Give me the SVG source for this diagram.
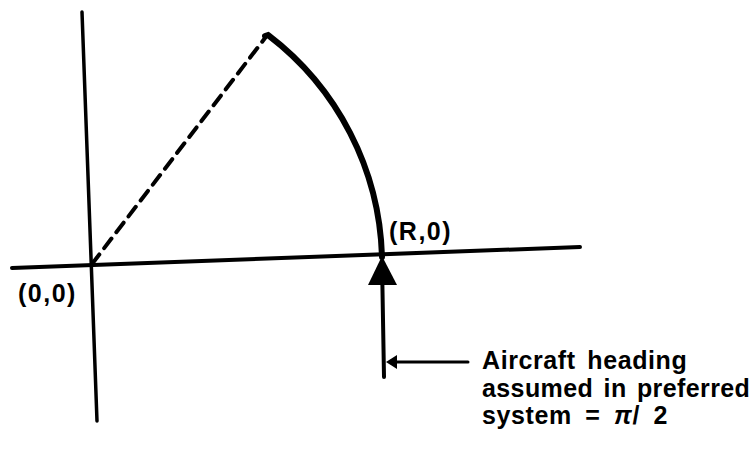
<svg xmlns="http://www.w3.org/2000/svg" width="754" height="450" viewBox="0 0 754 450">
<style>
.ax{stroke:#000;fill:none;stroke-linecap:round}
.t{font-family:"Liberation Sans",Arial,sans-serif;font-weight:bold;font-size:25px;fill:#000}
</style>
<rect width="754" height="450" fill="#fff"/>
<g id="axes">
<line class="ax" x1="82" y1="12" x2="97" y2="421" stroke-width="3.5"/>
<line class="ax" x1="12" y1="268" x2="580" y2="247" stroke-width="4"/>
</g>
<g id="connectors">
<line class="ax" x1="92" y1="264" x2="265" y2="38" stroke-width="4" stroke-dasharray="12,8" stroke-linecap="butt"/>
<path class="ax" d="M265,36 L268,35 A289,289 0 0,1 382,257" stroke-width="6"/>
<line class="ax" x1="382" y1="262" x2="384" y2="377" stroke-width="4"/>
<polygon points="382,256 368,285 397,285" fill="#000"/>
<line class="ax" x1="392" y1="362" x2="468" y2="362" stroke-width="3"/>
<polygon points="386,362 397,355 397,369" fill="#000"/>
</g>
<g id="label-origin"><text class="t" x="18" y="302" letter-spacing="1.5">(0,0)</text></g>
<g id="label-R"><text class="t" x="389" y="240" letter-spacing="1.5">(R,0)</text></g>
<g id="label-heading">
<text class="t" x="482" y="369" letter-spacing="0.6" word-spacing="4">Aircraft heading</text>
<text class="t" x="482" y="397" letter-spacing="0.4" word-spacing="3">assumed in preferred</text>
<text class="t" x="482" y="424" letter-spacing="0.6" word-spacing="6">system = <tspan font-style="italic">π</tspan>/ 2</text>
</g>
</svg>
